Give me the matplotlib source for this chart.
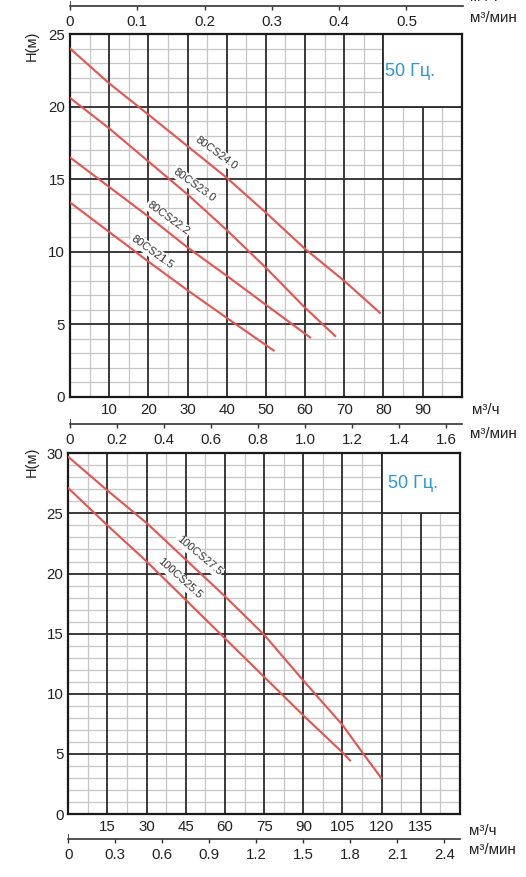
import numpy as np
import matplotlib
matplotlib.use('Agg')
import matplotlib.pyplot as plt
from matplotlib.patches import Rectangle

plt.rcParams['font.family'] = ['Liberation Sans', 'DejaVu Sans']

# top chart: 80CS pumps, flow Q (m3/h) and head H (m)
q_80cs240 = [0, 10, 20, 40, 50, 60, 70, 79.1]
h_80cs240 = [24.0, 21.6, 19.45, 15.1, 12.7, 10.2, 8.0, 5.8]
q_80cs230 = [0, 10, 30, 40, 50, 60, 67.7]
h_80cs230 = [20.6, 18.5, 13.95, 11.5, 8.9, 6.15, 4.2]
q_80cs222 = [0, 20.4, 30, 40, 50, 61.3]
h_80cs222 = [16.5, 12.35, 10.3, 8.35, 6.35, 4.1]
q_80cs215 = [0, 20.4, 30, 40, 52]
h_80cs215 = [13.4, 9.25, 7.35, 5.45, 3.2]
top_models = ['80CS24.0', '80CS23.0', '80CS22.2', '80CS21.5']

# bottom chart: 100CS pumps
q_100cs275 = [0, 15, 30, 60, 75, 90, 105, 113, 119.8]
h_100cs275 = [29.7, 26.9, 24.2, 18.1, 14.9, 11.1, 7.4, 5.0, 3.0]
q_100cs255 = [0, 15, 30, 45, 60, 75, 90, 105.3, 107.9]
h_100cs255 = [27.1, 24.0, 21.0, 17.8, 14.6, 11.4, 8.2, 5.05, 4.45]
bottom_models = ['100CS27.5', '100CS25.5']

# axis ticks
top_q_ticks = [10, 20, 30, 40, 50, 60, 70, 80, 90]
top_h_ticks = [0, 5, 10, 15, 20, 25]
top_min_ticks = [0, 0.2, 0.4, 0.6, 0.8, 1.0, 1.2, 1.4, 1.6]
top_min_labels = ['0', '0.2', '0.4', '0.6', '0.8', '1.0', '1.2', '1.4', '1.6']
head_min_ticks = [0, 0.1, 0.2, 0.3, 0.4, 0.5]
head_min_labels = ['0', '0.1', '0.2', '0.3', '0.4', '0.5']
bot_q_ticks = [15, 30, 45, 60, 75, 90, 105, 120, 135]
bot_h_ticks = [0, 5, 10, 15, 20, 25, 30]
bot_min_ticks = [0, 0.3, 0.6, 0.9, 1.2, 1.5, 1.8, 2.1, 2.4]
bot_min_labels = ['0', '0.3', '0.6', '0.9', '1.2', '1.5', '1.8', '2.1', '2.4']

W, H = 526, 877
RED = '#e8534e'
DARK = '#2b2b2b'
TXT = '#222222'
BLUE = '#2e96d2'
TS = 10.8

fig = plt.figure(figsize=(W / 100, H / 100), dpi=100)


def px_axes(x0, y0, x1, y1):
    return fig.add_axes([x0 / W, 1 - y1 / H, (x1 - x0) / W, (y1 - y0) / H])


def ftext(x, y, s, **kw):
    fig.text(x / W, 1 - y / H, s, **kw)


def chart(ax, xmax, xstep, ymax, qticks, hticks, box):
    ax.set_xlim(0, xmax)
    ax.set_ylim(0, ymax)
    ax.set_xticks(qticks)
    ax.set_xticklabels([str(v) for v in qticks])
    ax.set_xticks(np.arange(xstep / 2, xmax, xstep), minor=True)
    ax.set_yticks(hticks)
    ax.set_yticks([v for v in range(1, ymax) if v % 5], minor=True)
    ax.set_axisbelow(True)
    ax.grid(which='minor', color='#c6c6c6', lw=0.9)
    ax.grid(which='major', visible=False)
    for v in qticks:
        ax.axvline(v, color=DARK, lw=1.3, zorder=1)
    for v in hticks[1:-1]:
        ax.axhline(v, color=DARK, lw=1.3, zorder=1)
    # blank corner for the frequency note
    ax.add_patch(Rectangle((box[0], box[1]), xmax - box[0], ymax - box[1],
                           facecolor='white', edgecolor=DARK, lw=1.3, zorder=1.5))
    ax.tick_params(which='both', length=0, labelsize=TS, labelcolor=TXT)
    ax.tick_params(axis='x', pad=4.0)
    ax.tick_params(axis='y', pad=3.5)
    for s in ax.spines.values():
        s.set_linewidth(1.6)
        s.set_color('#1a1a1a')


def flow_strip(x0, x1, yline, xmax, ticks, labels):
    sx = px_axes(x0, yline - 5, x1, yline)
    sx.set_xlim(0, xmax)
    sx.set_ylim(0, 1)
    sx.patch.set_visible(False)
    for s in ['top', 'left', 'right']:
        sx.spines[s].set_visible(False)
    sx.spines['bottom'].set_linewidth(1.2)
    sx.spines['bottom'].set_color('#333333')
    sx.set_yticks([])
    sx.set_xticks(ticks)
    sx.set_xticklabels(labels)
    sx.tick_params(axis='x', length=3, width=1.0, color='#333333', pad=3.6,
                   labelsize=TS, labelcolor=TXT)
    sx.axvline(0, color='#333333', lw=1.2)


def curve_label(ax, q, h, name, rot):
    ax.text(q, h, name, rotation=rot, rotation_mode='anchor', ha='center', va='center',
            fontsize=8, color='#333333', zorder=4,
            bbox=dict(boxstyle='square,pad=0.12', fc='white', ec='none'))


# ---- top chart
ax1 = px_axes(70, 34, 461.7, 397)
chart(ax1, 100, 10, 25, top_q_ticks, top_h_ticks, (80, 20))
for q, h in [(q_80cs240, h_80cs240), (q_80cs230, h_80cs230),
             (q_80cs222, h_80cs222), (q_80cs215, h_80cs215)]:
    ax1.plot(q, h, color=RED, lw=1.5, zorder=3)
for (q, h), name in zip([(37.4, 16.8), (31.7, 14.6), (25.1, 12.3), (21.1, 10.0)], top_models):
    curve_label(ax1, q, h, name, -36)
ftext(410, 71, '50 Гц.', color=BLUE, fontsize=13, ha='center', va='center')
ftext(32, 46, 'H(м)', fontsize=10.5, color=TXT, rotation=90, ha='center', va='center')

flow_strip(70, 463, 5.7, 0.584, head_min_ticks, head_min_labels)
ftext(470, -3, 'м³/ч', fontsize=11, color=TXT, va='center')
ftext(470, 18, 'м³/мин', fontsize=11, color=TXT, va='center')

flow_strip(70, 461.7, 424, 100 / 60, top_min_ticks, top_min_labels)
ftext(472, 410, 'м³/ч', fontsize=11, color=TXT, va='center')
ftext(470, 434, 'м³/мин', fontsize=11, color=TXT, va='center')

# ---- bottom chart
ax2 = px_axes(68.3, 453.3, 460, 814)
chart(ax2, 150, 15, 30, bot_q_ticks, bot_h_ticks, (120, 25))
for q, h in [(q_100cs275, h_100cs275), (q_100cs255, h_100cs255)]:
    ax2.plot(q, h, color=RED, lw=1.5, zorder=3)
curve_label(ax2, 50.0, 21.5, bottom_models[0], -40)
curve_label(ax2, 42.6, 19.6, bottom_models[1], -42)
ftext(413, 484, '50 Гц.', color=BLUE, fontsize=13, ha='center', va='center')
ftext(32, 462, 'H(м)', fontsize=10.5, color=TXT, rotation=90, ha='center', va='center')

flow_strip(68.3, 460, 839, 2.5, bot_min_ticks, bot_min_labels)
ftext(469, 831, 'м³/ч', fontsize=11, color=TXT, va='center')
ftext(469, 850, 'м³/мин', fontsize=11, color=TXT, va='center')

fig.savefig('out.png', dpi=100)
